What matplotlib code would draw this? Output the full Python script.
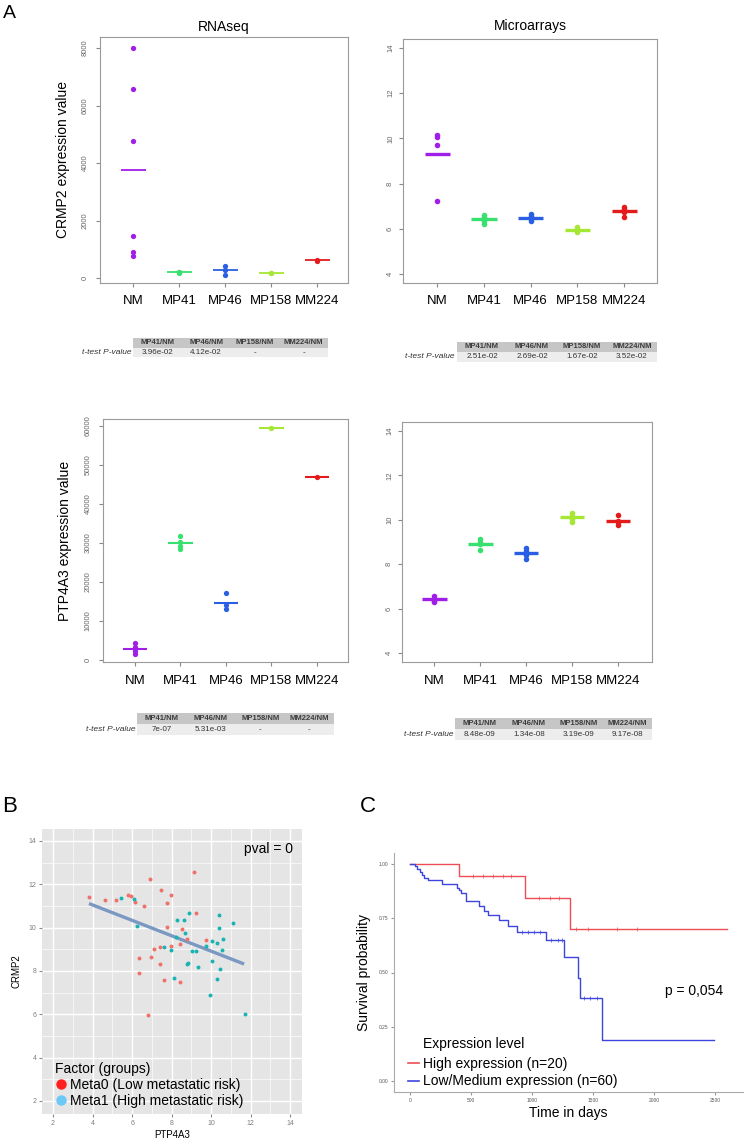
import numpy as np
import matplotlib
matplotlib.use('Agg')
import matplotlib.pyplot as plt
from matplotlib.patches import Rectangle
from matplotlib.lines import Line2D

plt.rcParams['font.family'] = ['Liberation Sans', 'DejaVu Sans']

# ---- data ----
groups = ['NM', 'MP41', 'MP46', 'MP158', 'MM224']
group_colors = ['#a11ee8', '#38e070', '#2b5fe3', '#a6e634', '#e31b1b']

crmp2_rnaseq = [[8000, 6590, 4750, 1470, 900, 750], [185, 200, 215],
                [405, 266, 116], [165, 180], [605, 620]]
crmp2_array = [[10.15, 10.08, 9.72, 7.23], [6.62, 6.52, 6.45, 6.35, 6.22],
               [6.64, 6.55, 6.45, 6.35], [6.08, 5.95, 5.85],
               [6.95, 6.87, 6.75, 6.54]]
ptp_rnaseq = [[4450, 3250, 2350, 1550], [31800, 30340, 29230, 28460],
              [17090, 14100, 12990], [59400], [47000]]
ptp_array = [[6.58, 6.45, 6.35, 6.28], [9.13, 9.0, 8.9, 8.62],
             [8.75, 8.6, 8.5, 8.4, 8.25], [10.32, 10.18, 10.05, 9.88],
             [10.2, 9.95, 9.88, 9.78]]

ratio_cols = ['MP41/NM', 'MP46/NM', 'MP158/NM', 'MM224/NM']
crmp2_rnaseq_p = ['3.96e-02', '4.12e-02', '-', '-']
crmp2_array_p = ['2.51e-02', '2.69e-02', '1.67e-02', '3.52e-02']
ptp_rnaseq_p = ['7e-07', '5.31e-03', '-', '-']
ptp_array_p = ['8.48e-09', '1.34e-08', '3.19e-09', '9.17e-08']

# panel B: PTP4A3 vs CRMP2
meta0_x = [3.82, 4.65, 5.19, 5.81, 5.97, 6.13, 6.62, 6.91, 7.47, 7.99, 7.79, 9.14,
           9.26, 7.77, 8.53, 8.77, 9.75, 7.97, 8.45, 7.40, 7.13, 6.98, 6.34, 7.40,
           6.37, 7.60, 8.45, 6.79]
meta0_y = [11.42, 11.28, 11.26, 11.52, 11.48, 11.18, 11.0, 12.23, 11.72, 11.49, 11.14, 12.57,
           10.66, 10.02, 9.95, 9.49, 9.44, 9.17, 9.23, 9.11, 9.02, 8.66, 8.60, 8.34,
           7.91, 7.60, 7.49, 5.96]
meta1_x = [5.43, 6.10, 6.25, 8.89, 8.26, 8.61, 10.39, 11.13, 10.41, 8.68, 8.24, 10.62,
           10.06, 10.28, 9.75, 7.62, 7.96, 9.02, 9.26, 10.56, 8.82, 8.80, 10.03, 9.36,
           10.46, 8.14, 10.32, 9.95, 11.69]
meta1_y = [11.37, 11.32, 10.09, 10.68, 10.34, 10.34, 10.57, 10.23, 10.0, 9.74, 9.58, 9.49,
           9.39, 9.29, 9.14, 9.11, 8.95, 8.92, 8.92, 8.95, 8.38, 8.31, 8.48, 8.19,
           8.08, 7.69, 7.65, 6.89, 6.03]
fit_x = [3.82, 11.67]
fit_y = [11.11, 8.32]

# panel C: Kaplan-Meier
high_t = [0, 399, 942, 1311]
high_s = [1.0, 0.944, 0.841, 0.70]
high_end = 2600
high_cens = [520, 600, 680, 760, 830, 1060, 1150, 1220, 1360, 1460, 1700, 1860]
low_t = [0, 41, 60, 81, 100, 117, 149, 260, 388, 402, 415, 456, 570, 611, 638,
         733, 801, 877, 1113, 1262, 1376, 1393, 1574]
low_s = [1.0, 0.988, 0.976, 0.963, 0.950, 0.937, 0.924, 0.907, 0.891, 0.881, 0.865,
         0.827, 0.807, 0.784, 0.763, 0.740, 0.713, 0.685, 0.648, 0.572, 0.476, 0.381,
         0.190]
low_end = 2492
low_cens = [920, 970, 1020, 1070, 1160, 1210, 1245, 1430, 1480, 1530]

# ---- layout helpers ----
W, H = 745, 1145
fig = plt.figure(figsize=(W / 100, H / 100), dpi=100)


def px_axes(l, t, r, b):
    return fig.add_axes([l / W, 1 - b / H, (r - l) / W, (b - t) / H])


def step_value(ts, ss, x):
    idx = np.searchsorted(ts, x, side='right') - 1
    return np.array(ss)[idx]


def dotplot(ax, data, xlim, ylim, yticks, ms, mean_lw, ypad):
    for i, (vals, c) in enumerate(zip(data, group_colors)):
        ax.plot(np.full(len(vals), i + 1), vals, 'o', color=c, ms=ms, mec='none')
        ax.hlines(np.mean(vals), i + 1 - 0.27, i + 1 + 0.27, color=c, lw=mean_lw)
    ax.set_xlim(*xlim)
    ax.set_ylim(*ylim)
    ax.set_xticks(range(1, 6))
    ax.set_xticklabels(groups, fontsize=9.5)
    ax.set_yticks(yticks)
    ax.set_yticklabels([str(v) for v in yticks], fontsize=5.5, color='#666666')
    for lab in ax.get_yticklabels():
        lab.set_rotation(90)
        lab.set_va('center')
    ax.tick_params(axis='x', length=3, pad=6, color='#888888')
    ax.tick_params(axis='y', length=3, pad=ypad, color='#888888')
    for s in ax.spines.values():
        s.set_color('#9a9a9a')
        s.set_linewidth(0.8)


def draw_table(box, vals):
    ax = px_axes(*box)
    ax.set_xlim(0, 4)
    ax.set_ylim(0, 2)
    ax.axis('off')
    for i, (h, v) in enumerate(zip(ratio_cols, vals)):
        ax.add_patch(Rectangle((i, 1), 1, 1, fc='#c6c6c6', ec='none'))
        ax.add_patch(Rectangle((i, 0), 1, 1, fc='#ededed', ec='none'))
        ax.text(i + 0.5, 1.5, h, ha='center', va='center', fontsize=5.5,
                fontweight='bold', color='#3c3c3c')
        ax.text(i + 0.5, 0.5, v, ha='center', va='center', fontsize=5.8, color='#333333')
    ax.text(-0.04, 0.5, 't-test P-value', ha='right', va='center', fontsize=6,
            style='italic', color='#333333')


# ---- panel A ----
ax1 = px_axes(100, 37, 348, 283)
dotplot(ax1, crmp2_rnaseq, (0.28, 5.67), (-174, 8383), [0, 2000, 4000, 6000, 8000],
        3.8, 1.3, 5)
ax1.text(0.5, 1.041, 'RNAseq', transform=ax1.transAxes, ha='center', va='center', fontsize=10)
ax1.set_ylabel('CRMP2 expression value', fontsize=10)
ax1.yaxis.set_label_coords(-0.121, 0.5)

ax2 = px_axes(403, 39, 657, 283)
dotplot(ax2, crmp2_array, (0.27, 5.7), (3.6, 14.4), [4, 6, 8, 10, 12, 14], 4, 2.4, 3.5)
ax2.text(0.5, 1.053, 'Microarrays', transform=ax2.transAxes, ha='center', va='center', fontsize=10)

ax3 = px_axes(103, 419, 348, 662)
dotplot(ax3, ptp_rnaseq, (0.30, 5.68), (-513, 61795),
        [0, 10000, 20000, 30000, 40000, 50000, 60000], 3.8, 1.5, 5)
ax3.set_ylabel('PTP4A3 expression value', fontsize=10)
ax3.yaxis.set_label_coords(-0.127, 0.5)

ax4 = px_axes(402, 422, 652, 662)
dotplot(ax4, ptp_array, (0.30, 5.74), (3.6, 14.4), [4, 6, 8, 10, 12, 14], 4, 2.4, 3.5)

draw_table((133, 338, 328, 357), crmp2_rnaseq_p)
draw_table((457, 342, 657, 362), crmp2_array_p)
draw_table((137, 713, 334, 735), ptp_rnaseq_p)
draw_table((455, 718, 652, 740), ptp_array_p)

# ---- panel B ----
axb = px_axes(42, 829, 302, 1114)
axb.set_facecolor('#e5e5e5')
axb.set_xlim(1.44, 14.6)
axb.set_ylim(1.4, 14.55)
ticks = [2, 4, 6, 8, 10, 12, 14]
axb.set_xticks(ticks)
axb.set_yticks(ticks)
axb.set_xticks([3, 5, 7, 9, 11, 13], minor=True)
axb.set_yticks([3, 5, 7, 9, 11, 13], minor=True)
axb.grid(which='major', color='white', lw=1.0)
axb.grid(which='minor', color='white', lw=0.45)
axb.set_axisbelow(True)
for s in axb.spines.values():
    s.set_visible(False)
axb.tick_params(which='major', length=2.5, color='#8a8a8a', labelsize=5,
                labelcolor='#7f7f7f', pad=1.5)
axb.tick_params(which='minor', length=0)
axb.plot(fit_x, fit_y, color='#7b98c2', lw=2.4, solid_capstyle='butt', zorder=2)
axb.scatter(meta0_x, meta0_y, s=8, color='#f0706a', lw=0, zorder=3)
axb.scatter(meta1_x, meta1_y, s=8, color='#18b3b3', lw=0, zorder=3)
axb.text(0.965, 0.93, 'pval = 0', transform=axb.transAxes, ha='right', va='center', fontsize=10)
axb.set_xlabel('PTP4A3', fontsize=7)
axb.xaxis.set_label_coords(0.5, -0.055)
axb.set_ylabel('CRMP2', fontsize=7)
axb.yaxis.set_label_coords(-0.077, 0.5)
handles_b = [Line2D([], [], ls='none', marker='o', ms=7.5, color='#ff1f1f', mec='none'),
             Line2D([], [], ls='none', marker='o', ms=7.5, color='#6cc8f5', mec='none')]
leg_b = axb.legend(handles_b, ['Meta0 (Low metastatic risk)', 'Meta1 (High metastatic risk)'],
                   title='Factor (groups)', loc='lower left', bbox_to_anchor=(0.05, 0.02),
                   frameon=False, fontsize=10, title_fontsize=10, alignment='left',
                   handlelength=0.8, handletextpad=0.3, labelspacing=0.15,
                   borderpad=0, borderaxespad=0)

# ---- panel C ----
axc = px_axes(394, 853, 743, 1092)
axc.set_xlim(-130, 2730)
axc.set_ylim(-0.05, 1.05)
axc.step(high_t + [high_end], high_s + [high_s[-1]], where='post', color='#ee4d55', lw=1.0)
axc.step(low_t + [low_end], low_s + [low_s[-1]], where='post', color='#3d45dd', lw=1.0)
axc.plot(high_cens, step_value(high_t, high_s, high_cens), ls='none', marker='|',
         ms=2.5, mew=0.5, color='#ee4d55')
axc.plot(low_cens, step_value(low_t, low_s, low_cens), ls='none', marker='|',
         ms=2.5, mew=0.5, color='#3d45dd')
axc.set_xticks([0, 500, 1000, 1500, 2000, 2500])
axc.set_yticks([0, 0.25, 0.5, 0.75, 1.0])
axc.set_yticklabels(['0.00', '0.25', '0.50', '0.75', '1.00'])
axc.tick_params(length=2, color='#999999', labelsize=3.5, labelcolor='#555555', pad=2)
for side in ['top', 'right']:
    axc.spines[side].set_visible(False)
for side in ['left', 'bottom']:
    axc.spines[side].set_color('#aaaaaa')
    axc.spines[side].set_linewidth(0.8)
axc.text(0.943, 0.423, 'p = 0,054', transform=axc.transAxes, ha='right', va='center', fontsize=10)
axc.set_xlabel('Time in days', fontsize=10)
axc.xaxis.set_label_coords(0.5, -0.06)
axc.set_ylabel('Survival probability', fontsize=10)
axc.yaxis.set_label_coords(-0.066, 0.5)
handles_c = [Line2D([], [], color='#ee4d55', lw=1.2), Line2D([], [], color='#3d45dd', lw=1.2)]
axc.legend(handles_c, ['High expression (n=20)', 'Low/Medium expression (n=60)'],
           loc='lower left', bbox_to_anchor=(0.04, 0.015), frameon=False, fontsize=10,
           handlelength=0.8, handletextpad=0.3, labelspacing=0.25,
           borderpad=0, borderaxespad=0)
axc.text(0.084, 0.2, 'Expression level', transform=axc.transAxes, ha='left', va='center',
         fontsize=10)

# panel letters
fig.text(3 / W, 1 - 13 / H, 'A', fontsize=14, ha='left', va='center')
fig.text(2 / W, 1 - 807 / H, 'B', fontsize=16, ha='left', va='center')
fig.text(360 / W, 1 - 807 / H, 'C', fontsize=16, ha='left', va='center')

fig.savefig('out.png', dpi=100, facecolor='white')
